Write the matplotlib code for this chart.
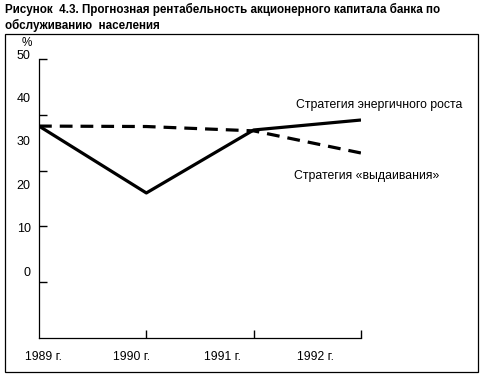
import numpy as np
import matplotlib
matplotlib.use('Agg')
from matplotlib import pyplot as plt
from matplotlib.patches import Rectangle

plt.rcParams['font.family'] = ['Liberation Sans', 'DejaVu Sans']

years = ['1989 г.', '1990 г.', '1991 г.', '1992 г.']
growth = [33.4, 18.0, 32.5, 34.8]      # Стратегия энергичного роста
milking = [33.4, 33.3, 32.3, 27.2]     # Стратегия «выдаивания»
y_labels = [0, 10, 20, 30, 40, 50]

x = np.arange(len(years))

fig = plt.figure(figsize = (4.85, 3.79), dpi = 100)
W, H = 485, 379
ax = fig.add_axes([39 / W, (H - 338) / H, (361 - 39) / W, (338 - 54) / H])

ax.plot(x, growth, color = 'black', lw = 2.3, solid_capstyle = 'butt')
ax.plot(x, milking, color = 'black', lw = 2.3, linestyle = (0, (4, 2.5)), dash_capstyle = 'butt')

ax.set_xlim(0, 3)
ax.set_ylim(-15.4, 50)
for s in ['top', 'right']:
    ax.spines[s].set_visible(False)
ax.spines['left'].set_bounds(-15.4, 48.8)
for s in ['left', 'bottom']:
    ax.spines[s].set_linewidth(0.9)

# labels and tick marks do not line up in the original
ax.set_yticks(y_labels, [str(v) for v in y_labels])
ax.set_yticks([-2.5, 10.4, 23.0, 35.9, 48.8], minor = True)
ax.tick_params(axis = 'y', which = 'major', length = 0, pad = 6, labelsize = 9)
ax.tick_params(axis = 'y', which = 'minor', length = 6, width = 1, direction = 'in')

ax.set_xticks([0.04, 0.86, 1.71, 2.58], years)
ax.set_xticks([1, 2, 3], minor = True)
ax.tick_params(axis = 'x', which = 'major', length = 0, pad = 9, labelsize = 8.8)
ax.tick_params(axis = 'x', which = 'minor', length = 6, width = 1, direction = 'in')

ax.text(-0.11, 52.5, '%', fontsize = 8.5, ha = 'center', va = 'center', clip_on = False)

ax.text(2.39, 38.3, 'Стратегия энергичного роста', fontsize = 8.8, va = 'center')
ax.text(2.38, 21.8, 'Стратегия «выдаивания»', fontsize = 8.8, va = 'center')

fig.text(5 / W, 1 - 3 / H,
         'Рисунок  4.3. Прогнозная рентабельность акционерного капитала банка по\n'
         'обслуживанию  населения',
         fontsize = 8.4, fontweight = 'bold', va = 'top', ha = 'left', linespacing = 1.3)

fig.patches.append(Rectangle((5 / W, (H - 372) / H), (478 - 5) / W, (372 - 34) / H,
                             transform = fig.transFigure, fill = False, lw = 0.9,
                             edgecolor = 'black'))

fig.savefig('out.png', dpi = 100)
